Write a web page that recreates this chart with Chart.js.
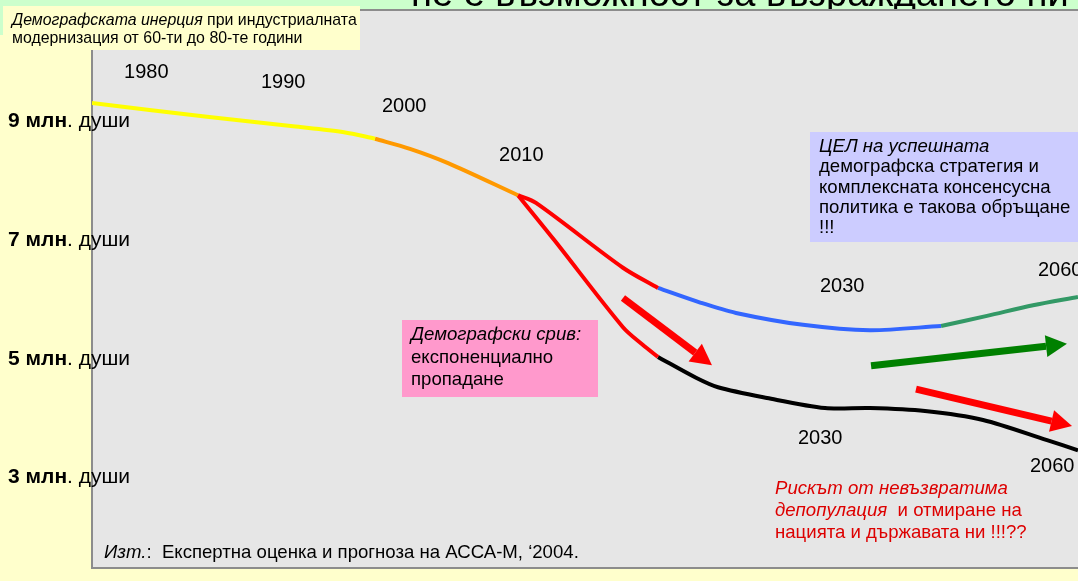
<!DOCTYPE html>
<html>
<head>
<meta charset="utf-8">
<script src="https://cdn.jsdelivr.net/npm/chart.js@4/dist/chart.umd.min.js"></script>
<style>
	html, body { margin: 0; padding: 0; background: #ffffcc; overflow: hidden; }
	canvas { display: block; }
</style>
</head>
<body>
<canvas id="chart" width="1078" height="581"></canvas>
<script>
// horizontal axis is a timeline index: 0 = left edge of the plot, 100 = right edge of the slide
// vertical axis is population in millions
const inertia = [[0, 9.30], [11.66, 9.07], [20.39, 8.91], [25.56, 8.81], [28.70, 8.70]]
const slowdown = [[28.70, 8.70], [32.25, 8.53], [36.11, 8.29], [43.20, 7.75]]
const goalDrop = [[43.20, 7.75], [45.03, 7.62], [53.85, 6.53], [57.40, 6.19]]
const goalFlat = [[57.40, 6.19], [61.76, 5.94], [65.31, 5.77], [72.11, 5.57], [78.90, 5.48], [86.11, 5.55]]
const goalRise = [[86.11, 5.55], [90.77, 5.72], [95.44, 5.90], [100, 6.04]]
const crashDrop = [[43.20, 7.75], [46.86, 7.00], [53.85, 5.53], [55.88, 5.23], [57.40, 5.03]]
const crashTail = [[57.40, 5.03], [61.26, 4.68], [63.49, 4.52], [68.46, 4.34], [74.34, 4.17], [78.90, 4.17], [84.48, 4.12], [90.37, 3.97], [96.86, 3.63], [100, 3.46]]

const levels = [9, 7, 5, 3]

const yearLabels = ['1980', '1990', '2000', '2010', '2030', '2060', '2030', '2060']
const yearX = [3.25, 17.14, 29.41, 41.28, 73.83, 95.94, 71.60, 95.13]
const yearY = [9.81, 9.64, 9.24, 8.41, 6.22, 6.49, 3.65, 3.18]

const arrowFrom = [[53.85, 6.02], [79.01, 4.88], [83.57, 4.49]]
const arrowTo = [[62.88, 4.89], [98.88, 5.25], [99.39, 3.87]]
const arrowColors = ['#ff0000', '#008000', '#ff0000']

const title = 'не е възможност за възраждането ни'
const FONT = 'Arial, "Liberation Sans", sans-serif'

function toPoints(list) {
	return list.map(([x, y]) => ({ x, y }))
}

function line(data, color) {
	return {
		data: toPoints(data),
		borderColor: color,
		borderWidth: 4,
		pointRadius: 0,
		tension: 0.3,
		fill: false,
	}
}

function rich(ctx, x, y, parts, size, color) {
	ctx.fillStyle = color
	for (const p of parts) {
		ctx.font = `${p.s || ''} ${size}px ${FONT}`
		ctx.fillText(p.t, x, y)
		x += ctx.measureText(p.t).width
	}
}

function box(ctx, x, y, w, h, fill, lines, size, lineGap, color) {
	if (fill) {
		ctx.fillStyle = fill
		ctx.fillRect(x, y, w, h)
	}
	lines.forEach((parts, i) => {
		rich(ctx, x + 9, y + 15 + i * lineGap, parts, size, color)
	})
}

function arrow(ctx, x1, y1, x2, y2, color) {
	const ang = Math.atan2(y2 - y1, x2 - x1)
	const head = 21
	const half = 11
	const bx = x2 - head * Math.cos(ang)
	const by = y2 - head * Math.sin(ang)
	ctx.strokeStyle = color
	ctx.fillStyle = color
	ctx.lineWidth = 7
	ctx.lineCap = 'butt'
	ctx.beginPath()
	ctx.moveTo(x1, y1)
	ctx.lineTo(bx, by)
	ctx.stroke()
	ctx.beginPath()
	ctx.moveTo(x2, y2)
	ctx.lineTo(bx + half * Math.sin(ang), by - half * Math.cos(ang))
	ctx.lineTo(bx - half * Math.sin(ang), by + half * Math.cos(ang))
	ctx.closePath()
	ctx.fill()
}

const slide = {
	id: 'slide',
	beforeDraw(chart) {
		const { ctx, chartArea: a, width, height } = chart
		ctx.save()
		ctx.fillStyle = '#ffffcc'
		ctx.fillRect(0, 0, width, height)
		ctx.fillStyle = '#ccffcc'
		ctx.fillRect(0, 0, width, a.top)
		ctx.fillRect(0, 0, a.left, 35)
		ctx.fillStyle = '#000'
		ctx.font = `38px ${FONT}`
		ctx.textBaseline = 'alphabetic'
		ctx.fillText(title, 411, 6)
		ctx.fillStyle = '#e6e6e6'
		ctx.fillRect(a.left, a.top, a.right - a.left, a.bottom - a.top)
		ctx.strokeStyle = '#8c8c8c'
		ctx.lineWidth = 2
		ctx.beginPath()
		ctx.moveTo(a.right + 2, a.top)
		ctx.lineTo(a.left, a.top)
		ctx.lineTo(a.left, a.bottom)
		ctx.lineTo(a.right + 2, a.bottom)
		ctx.stroke()
		ctx.restore()
	},
	afterDatasetsDraw(chart) {
		const { ctx } = chart
		const sx = chart.scales.x
		const sy = chart.scales.y
		ctx.save()

		arrowFrom.forEach((from, i) => {
			const to = arrowTo[i]
			arrow(ctx, sx.getPixelForValue(from[0]), sy.getPixelForValue(from[1]),
				sx.getPixelForValue(to[0]), sy.getPixelForValue(to[1]), arrowColors[i])
		})

		ctx.textBaseline = 'middle'
		ctx.textAlign = 'left'
		ctx.font = `20px ${FONT}`
		ctx.fillStyle = '#000'
		yearLabels.forEach((label, i) => {
			ctx.fillText(label, sx.getPixelForValue(yearX[i]), sy.getPixelForValue(yearY[i]))
		})

		levels.forEach((v) => {
			rich(ctx, 8, sy.getPixelForValue(v), [{ t: v + ' млн', s: 'bold' }, { t: '. души' }], 21, '#000')
		})

		box(ctx, 3, 6, 357, 44, '#ffffcc', [
			[{ t: 'Демографската инерция', s: 'italic' }, { t: ' при индустриалната' }],
			[{ t: 'модернизация от 60-ти до 80-те години' }],
		], 15.9, 18, '#000')

		box(ctx, 810, 132, 270, 110, '#ccccff', [
			[{ t: 'ЦЕЛ на успешната', s: 'italic' }],
			[{ t: 'демографска стратегия и' }],
			[{ t: 'комплексната консенсусна' }],
			[{ t: 'политика е такова обръщане' }],
			[{ t: '!!!' }],
		], 18.6, 20.3, '#000')

		box(ctx, 402, 320, 196, 77, '#ff99cc', [
			[{ t: 'Демографски срив:', s: 'italic' }],
			[{ t: 'експоненциално' }],
			[{ t: 'пропадане' }],
		], 18.6, 22.5, '#000')

		box(ctx, 766, 474, 300, 70, null, [
			[{ t: 'Рискът от невъзвратима', s: 'italic' }],
			[{ t: 'депопулация', s: 'italic' }, { t: '  и отмиране на' }],
			[{ t: 'нацията и държавата ни !!!??' }],
		], 18.6, 22, '#dd0000')

		rich(ctx, 104, 553, [{ t: 'Изт.', s: 'italic' }, { t: ':  Експертна оценка и прогноза на АССА-М, ‘2004.' }], 18.6, '#000')

		ctx.restore()
	},
}

new Chart(document.getElementById('chart').getContext('2d'), {
	type: 'line',
	data: {
		datasets: [
			line(inertia, '#ffff00'),
			line(slowdown, '#ff9900'),
			line(goalDrop, '#ff0000'),
			line(goalFlat, '#3366ff'),
			line(goalRise, '#339966'),
			line(crashDrop, '#ff0000'),
			line(crashTail, '#000000'),
		],
	},
	options: {
		responsive: false,
		animation: false,
		layout: { padding: { left: 92, top: 10, right: 0, bottom: 13 } },
		scales: {
			x: { type: 'linear', min: 0, max: 100, display: false },
			y: { type: 'linear', min: 1.48, max: 10.865, display: false },
		},
		plugins: {
			legend: { display: false },
			tooltip: { enabled: false },
		},
	},
	plugins: [slide],
})
</script>
</body>
</html>
